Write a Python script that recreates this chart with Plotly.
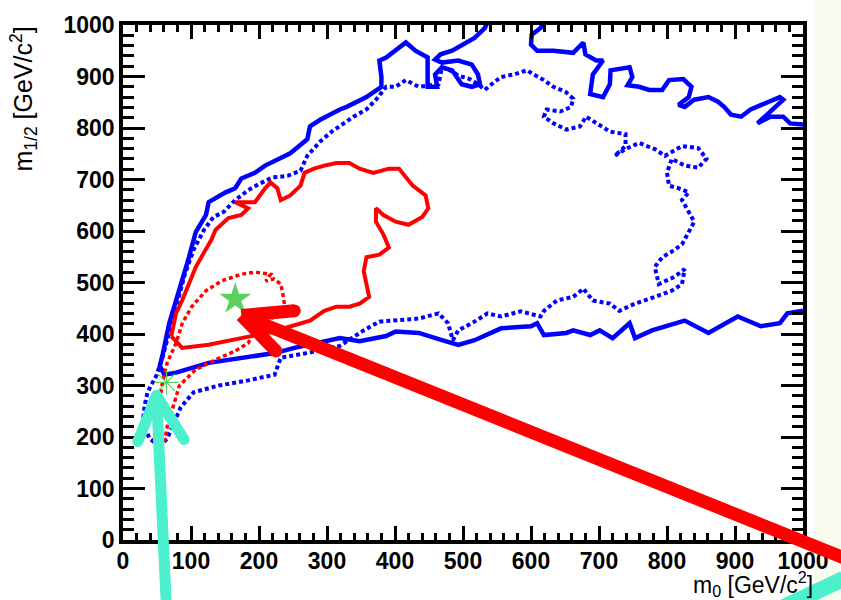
import plotly.graph_objects as go

# ---- data (m0, m1/2 in GeV/c^2) ----
bs_m0 = [1000, 981, 971, 952, 933, 948, 971, 966, 942, 923, 909, 894, 884, 875, 861, 840, 826, 817, 832, 836,
         824, 803, 793, 774, 759, 742, 749, 745, 717, 716, 706, 687, 691, 706, 696, 680, 677, 662, 633, 609,
         600, 601, 614, 622,
         539, 532, 517, 498, 484, 467, 459, 469, 493, 513, 522, 525, 513, 498, 484, 469, 459, 462, 448, 448,
         430, 416, 401, 387, 377, 380, 380, 358, 329, 319, 290, 275, 271, 246, 209, 194, 174, 165, 151, 126,
         122, 107, 97, 83, 68, 58, 54, 61, 78, 126, 174, 199, 223, 252, 281, 319, 348, 387, 401, 435,
         469, 493, 517, 556, 600, 609, 619, 652, 662, 687, 701, 720, 745, 753, 778, 826, 861, 904, 938, 966,
         977, 1000]
bs_m12 = [807, 809, 822, 822, 809, 828, 855, 860, 847, 836, 822, 826, 841, 851, 860, 855, 841, 845, 860, 880,
          895, 893, 874, 874, 880, 883, 899, 918, 912, 885, 860, 866, 904, 931, 931, 943, 966, 946, 950, 950,
          962, 981, 994, 1017,
          1013, 994, 975, 960, 950, 943, 933, 927, 931, 923, 904, 885, 880, 885, 912, 918, 904, 880, 880, 937,
          950, 966, 950, 937, 931, 899, 880, 860, 841, 836, 816, 803, 778, 751, 727, 713, 702, 683, 675, 656,
          631, 598, 549, 484, 421, 358, 338, 321, 325, 344, 354, 358, 363, 373, 382, 392, 386, 396, 405, 402,
          388, 379, 388, 411, 415, 421, 398, 402, 407, 398, 407, 392, 421, 392, 407, 426, 402, 434, 415, 421,
          440, 445]

bd_m0 = [54, 39, 29, 32, 36, 49, 58, 68, 80, 91, 104, 119, 133, 148, 165, 184, 201, 220, 242, 261,
         271, 290, 307, 322, 339, 358, 372, 387, 401, 416, 435, 452, 464, 469, 481, 493, 510, 522, 532, 542,
         556, 575, 594, 604, 619, 633, 651, 662, 659, 643, 623, 619, 633, 652, 672, 681, 698, 716, 739, 739,
         723, 739, 759, 782, 797, 822, 846, 858, 846, 826, 807, 800, 803, 817, 832, 822, 832, 840, 832, 822,
         807, 793, 782, 788, 811, 826, 822, 807, 782, 753, 730, 716, 691, 677, 662, 638, 619, 614, 585, 556,
         536, 517, 493, 485, 478, 464, 435, 401, 377, 354, 319, 271, 232, 223, 184, 141, 104, 85, 75, 65, 54]
bd_m12 = [182, 197, 229, 262, 287, 319, 354, 402, 459, 516, 564, 602, 627, 637, 660, 679, 692, 704, 707, 717,
          746, 774, 793, 807, 822, 836, 855, 880, 880, 893, 880, 883, 885, 918, 912, 902, 895, 885, 874, 885,
          899, 904, 912, 904, 893, 880, 870, 857, 841, 832, 836, 822, 809, 797, 803, 822, 807, 793, 788, 765,
          746, 759, 771, 759, 746, 765, 761, 740, 723, 727, 740, 713, 688, 683, 675, 660, 637, 618, 598, 574,
          560, 549, 530, 497, 511, 526, 497, 484, 472, 459, 445, 459, 465, 488, 472, 465, 445, 434, 444, 434,
          440, 424, 407, 388, 421, 440, 430, 426, 424, 407, 377, 363, 354, 321, 310, 300, 287, 258, 229, 197, 182]

rs_m0 = [71, 78, 87, 97, 107, 119, 130, 136, 155, 174, 184, 165, 194, 209, 217, 227, 232, 246, 261, 267,
         281, 296, 314, 333, 348, 368, 391, 406, 426, 445, 449, 440, 420, 401, 383, 372, 372, 383, 391, 377,
         358, 354, 358, 362, 348, 333, 314, 296, 275, 252, 213, 174, 126, 87, 71]
rs_m12 = [396, 440, 465, 497, 530, 558, 583, 602, 625, 631, 644, 656, 656, 683, 694, 683, 660, 669, 688, 713,
          721, 727, 732, 732, 721, 713, 721, 721, 688, 669, 644, 627, 612, 618, 631, 644, 618, 593, 568, 554,
          549, 522, 497, 472, 459, 453, 453, 445, 426, 417, 402, 392, 379, 373, 396]

rd_m0 = [46, 49, 54, 58, 65, 78, 87, 101, 122, 145, 174, 194, 217, 210, 222, 232, 235, 238, 213, 194,
         184, 165, 136, 107, 83, 72, 65, 61]
rd_m12 = [191, 229, 268, 306, 344, 382, 420, 453, 484, 503, 516, 520, 516, 503, 507, 497, 478, 453, 424, 407,
          382, 367, 350, 331, 300, 254, 220, 191]

best_fit = (165, 468)
alt_point = (64, 306)

x_ticks = [0, 100, 200, 300, 400, 500, 600, 700, 800, 900, 1000]
y_ticks = [0, 100, 200, 300, 400, 500, 600, 700, 800, 900, 1000]

BLUE = "#0000ff"
RED = "#ff0000"
GREEN = "#5ad15a"
CYAN = "#4cf0cc"

fig = go.Figure()
fig.add_trace(go.Scatter(x=bs_m0, y=bs_m12, mode="lines", line=dict(color=BLUE, width=4.5)))
fig.add_trace(go.Scatter(x=bd_m0, y=bd_m12, mode="lines", line=dict(color=BLUE, width=4, dash="4px,3px")))
fig.add_trace(go.Scatter(x=rs_m0, y=rs_m12, mode="lines", line=dict(color=RED, width=4)))
fig.add_trace(go.Scatter(x=rd_m0, y=rd_m12, mode="lines", line=dict(color=RED, width=3.5, dash="4px,3px")))
fig.add_trace(go.Scatter(x=[best_fit[0]], y=[best_fit[1]], mode="markers",
                         marker=dict(symbol="star", size=24, color=GREEN, line=dict(width=0))))
fig.add_trace(go.Scatter(x=[alt_point[0]], y=[alt_point[1]], mode="markers",
                         marker=dict(symbol="asterisk-open", size=20, color=GREEN, line=dict(width=1.2, color=GREEN))))

tickfont = dict(family="Liberation Sans", size=23, color="black", weight="bold")
axis_common = dict(range=[0, 1000], showline=True, linewidth=3.5, linecolor="black", mirror="ticks",
                   ticks="inside", tickwidth=3, tickcolor="black", showgrid=False, zeroline=False,
                   tickfont=tickfont, fixedrange=True)
fig.update_xaxes(**axis_common, tickvals=x_ticks, ticktext=[str(v) for v in x_ticks], ticklen=14,
                 ticklabelstandoff=-2,
                 minor=dict(dtick=20, tick0=0, ticklen=7, tickwidth=2.5, ticks="inside", tickcolor="black"))
fig.update_yaxes(**axis_common, tickvals=y_ticks, ticktext=[str(v) for v in y_ticks], ticklen=22,
                 minor=dict(dtick=20, tick0=0, ticklen=11, tickwidth=2.5, ticks="inside", tickcolor="black"))

PW, PH = 690.0, 523.0  # plot-area size in px, used to keep round caps circular


def seg(x0, y0, x1, y1, color, w):
    return dict(type="line", xref="paper", yref="paper", x0=x0, y0=y0, x1=x1, y1=y1,
                line=dict(color=color, width=w), layer="above")


def cap(x, y, color, w):
    rx, ry = w / 2.0 / PW, w / 2.0 / PH
    return dict(type="circle", xref="paper", yref="paper", x0=x - rx, x1=x + rx, y0=y - ry, y1=y + ry,
                fillcolor=color, line=dict(width=0), layer="above")


shapes = [
    dict(type="rect", xref="paper", yref="paper", x0=1.015, x1=1.06, y0=-0.2, y1=1.1,
         fillcolor="#fafcf0", line=dict(width=0), layer="below"),
    # cyan arrow (lower left)
    seg(0.0638, -0.13, 0.0493, 0.281, CYAN, 11),
    seg(0.0493, 0.281, 0.0217, 0.191, CYAN, 11),
    seg(0.0493, 0.281, 0.0899, 0.195, CYAN, 11),
    cap(0.0217, 0.191, CYAN, 11), cap(0.0899, 0.195, CYAN, 11), cap(0.0493, 0.281, CYAN, 11),
    # cyan arrow (lower right, partial)
    seg(0.972, -0.13, 1.06, -0.075, CYAN, 16),
    # red arrow
    seg(1.07, -0.04, 0.174, 0.436, RED, 13),
    seg(0.174, 0.436, 0.252, 0.445, RED, 13),
    seg(0.174, 0.436, 0.225, 0.367, RED, 13),
    cap(0.252, 0.445, RED, 13), cap(0.225, 0.367, RED, 13),
]
fig.update_layout(shapes=shapes)

fig.update_layout(
    width=841, height=600, margin=dict(l=123, r=28, t=17, b=60),
    paper_bgcolor="white", plot_bgcolor="white", showlegend=False,
    annotations=[
        dict(text="m<sub>0</sub> [GeV/c<sup>2</sup>]", xref="paper", yref="paper", x=1, y=0,
             xanchor="right", yanchor="top", yshift=-26, xshift=12, showarrow=False,
             font=dict(family="Liberation Sans", size=23, color="black")),
        dict(text="m<sub>1/2</sub> [GeV/c<sup>2</sup>]", xref="paper", yref="paper", x=0, y=1,
             xanchor="right", yanchor="top", xshift=-80, textangle=-90, showarrow=False,
             font=dict(family="Liberation Sans", size=25, color="black")),
    ],
)

fig.write_html("out.html")
